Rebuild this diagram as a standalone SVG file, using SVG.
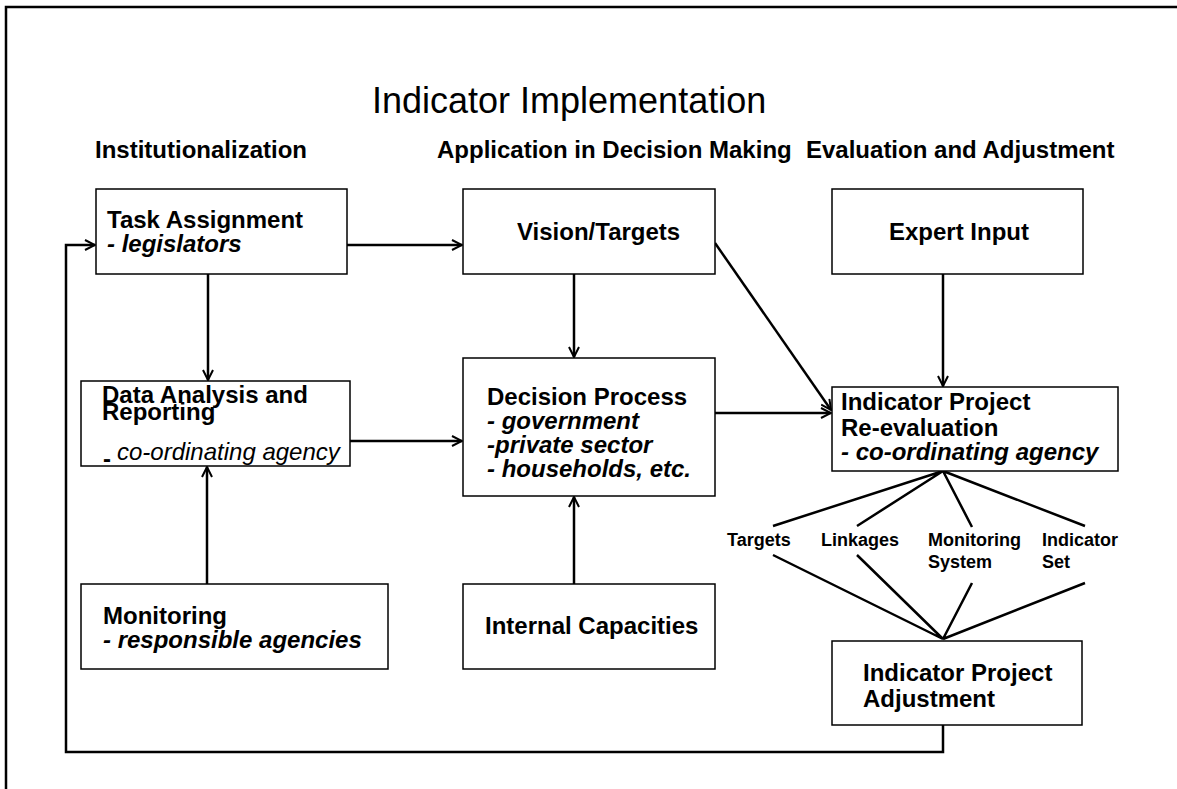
<svg xmlns="http://www.w3.org/2000/svg" width="1177" height="789" viewBox="0 0 1177 789">
<style>
text{font-family:"Liberation Sans",Arial,sans-serif;fill:#000}
.t{font-size:36px}
.h{font-size:24px;font-weight:bold}
.b{font-size:24px;font-weight:bold}
.bi{font-size:24px;font-weight:bold;font-style:italic}
.i{font-size:24px;font-style:italic}
.s{font-size:18px;font-weight:bold}
.box{fill:#fff;stroke:#000;stroke-width:1.5}
.c{fill:none;stroke:#000;stroke-width:2.5}
.a{marker-end:url(#ah)}
</style>
<defs>
<marker id="ah" viewBox="0 0 12 12" refX="11" refY="6" markerWidth="12" markerHeight="12" markerUnits="userSpaceOnUse" orient="auto">
<path d="M1,1 L11,6 L1,11" fill="none" stroke="#000" stroke-width="2"/>
</marker>
</defs>
<rect width="1177" height="789" fill="#fff"/>
<path d="M6,800 V7 H1190" fill="none" stroke="#000" stroke-width="2.5"/>
<text class="t" x="372" y="113">Indicator Implementation</text>
<text class="h" x="95" y="158">Institutionalization</text>
<text class="h" x="437" y="158">Application in Decision Making</text>
<text class="h" x="806" y="158">Evaluation and Adjustment</text>

<g id="connectors">
<path class="c a" d="M347,245 H462"/>
<path class="c a" d="M208,274 V380"/>
<path class="c a" d="M350,441 H462"/>
<path class="c a" d="M574,274 V357"/>
<path class="c a" d="M574,584 V497"/>
<path class="c a" d="M207,584 V467"/>
<path class="c a" d="M715,243 L831,410"/>
<path class="c a" d="M715,413 H831"/>
<path class="c a" d="M943,274 V386"/>
<path class="c a" d="M943,725 V752 H66 V245 H95"/>
<path class="c" d="M943,471 L773,526 M943,471 L857,526 M943,471 L972,527 M943,471 L1085,526"/>
<path class="c" d="M773,555 L943,639 M857,555 L943,639 M972,583 L943,639 M1085,583 L943,639"/>
</g>

<g id="task-assignment">
<rect class="box" x="96" y="189" width="251" height="85"/>
<text class="b" x="107" y="228">Task Assignment</text>
<text class="bi" x="107" y="252">- legislators</text>
</g>
<g id="vision-targets">
<rect class="box" x="463" y="189" width="252" height="85"/>
<text class="b" x="517" y="240">Vision/Targets</text>
</g>
<g id="expert-input">
<rect class="box" x="832" y="189" width="251" height="85"/>
<text class="b" x="889" y="240">Expert Input</text>
</g>
<g id="data-analysis">
<rect class="box" x="81" y="381" width="269" height="85"/>
<text class="b" x="102" y="403">Data Analysis and</text>
<text class="b" x="102" y="420">Reporting</text>
<text class="b" x="103" y="467">-</text>
<text class="i" x="117" y="460">co-ordinating agency</text>
</g>
<g id="decision-process">
<rect class="box" x="463" y="358" width="252" height="138"/>
<text class="b" x="487" y="405">Decision Process</text>
<text class="bi" x="487" y="429">- government</text>
<text class="bi" x="487" y="453">-private sector</text>
<text class="bi" x="487" y="477">- households, etc.</text>
</g>
<g id="reevaluation">
<rect class="box" x="832" y="387" width="286" height="84"/>
<text class="b" x="841" y="410">Indicator Project</text>
<text class="b" x="841" y="436">Re-evaluation</text>
<text class="bi" x="841" y="460">- co-ordinating agency</text>
</g>
<g id="fan-labels">
<text class="s" x="727" y="546">Targets</text>
<text class="s" x="821" y="546">Linkages</text>
<text class="s" x="928" y="546">Monitoring</text>
<text class="s" x="928" y="568">System</text>
<text class="s" x="1042" y="546">Indicator</text>
<text class="s" x="1042" y="568">Set</text>
</g>
<g id="monitoring">
<rect class="box" x="81" y="584" width="307" height="85"/>
<text class="b" x="103" y="624">Monitoring</text>
<text class="bi" x="103" y="648">- responsible agencies</text>
</g>
<g id="internal-capacities">
<rect class="box" x="463" y="584" width="252" height="85"/>
<text class="b" x="485" y="634">Internal Capacities</text>
</g>
<g id="adjustment">
<rect class="box" x="832" y="641" width="250" height="84"/>
<text class="b" x="863" y="681">Indicator Project</text>
<text class="b" x="863" y="707">Adjustment</text>
</g>
</svg>
